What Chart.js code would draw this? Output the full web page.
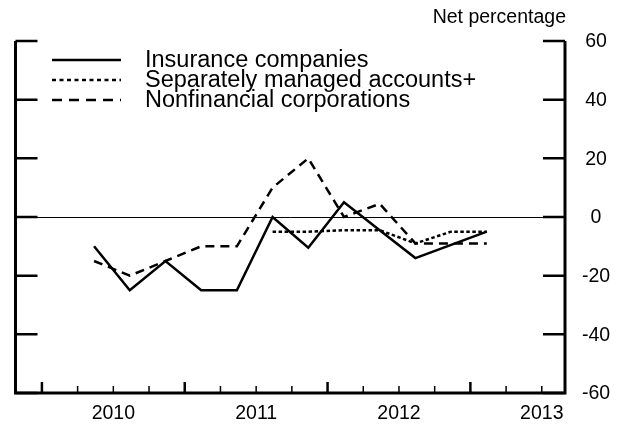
<!DOCTYPE html>
<html>
<head>
<meta charset="utf-8">
<script src="https://cdn.jsdelivr.net/npm/chart.js"></script>
<style>
  html, body { margin: 0; padding: 0; background: #fff; }
  #wrap { width: 625px; height: 427px; position: relative; }
</style>
</head>
<body>
<div id="wrap"><canvas id="chart" width="625" height="427"></canvas></div>
<script>
  // quarters counted from the start of 2010 (0 = 2010 Q1 start)
  const quarters = [1.46, 2.46, 3.46, 4.46, 5.46, 6.46, 7.46, 8.46, 9.46, 10.46, 11.46, 12.46];
  const insurance = [-10, -25, -15, -25, -25, 0, -10.5, 5, -4.5, -14, -9.5, -5];
  const managed = [null, null, null, null, null, -5, -5, -4.5, -4.5, -9, -5, -5];
  const nonfinancial = [-15, -20, -15, -10, -10, 10, 20, 0, 4.5, -9, -9, -9];
  const yearLabels = ['2010', '2011', '2012', '2013'];
  const yearMids = [2, 6, 10, 14];
  const yTicks = [60, 40, 20, 0, -20, -40, -60];
  const seriesNames = ['Insurance companies', 'Separately managed accounts+', 'Nonfinancial corporations'];

  function pts(vals) {
    return vals.map((v, i) => ({ x: quarters[i], y: v }));
  }

  const font = '"Liberation Sans", Arial, sans-serif';

  const framePlugin = {
    id: 'frame',
    beforeDatasetsDraw(chart) {
      const { ctx, chartArea: a, scales: { y } } = chart;
      ctx.save();
      ctx.strokeStyle = '#000';
      ctx.lineWidth = 1;
      const y0 = Math.round(y.getPixelForValue(0)) + 0.5;
      ctx.beginPath();
      ctx.moveTo(a.left, y0);
      ctx.lineTo(a.right, y0);
      ctx.stroke();
      ctx.restore();
    },
    afterDraw(chart) {
      const { ctx, chartArea: a, scales: { x, y } } = chart;
      ctx.save();
      ctx.strokeStyle = '#000';
      ctx.fillStyle = '#000';
      ctx.lineCap = 'butt';
      // box: left, right, bottom
      ctx.lineWidth = 3;
      ctx.beginPath();
      ctx.moveTo(a.left, a.top);
      ctx.lineTo(a.left, a.bottom);
      ctx.lineTo(a.right, a.bottom);
      ctx.lineTo(a.right, a.top);
      ctx.stroke();
      // y ticks inward on both sides, labels on the right
      ctx.font = '19.5px ' + font;
      ctx.textAlign = 'center';
      ctx.textBaseline = 'middle';
      yTicks.forEach(v => {
        const py = y.getPixelForValue(v);
        ctx.lineWidth = 2.5;
        ctx.beginPath();
        ctx.moveTo(a.left, py);
        ctx.lineTo(a.left + 22, py);
        ctx.moveTo(a.right, py);
        ctx.lineTo(a.right - 22, py);
        ctx.stroke();
        ctx.fillText(String(v), a.right + 31, py + 1);
      });
      // x ticks
      for (let q = 0; q <= 14; q++) {
        const px = x.getPixelForValue(q);
        const len = q % 4 === 0 ? 11 : 7;
        ctx.lineWidth = q % 4 === 0 ? 2.5 : 1.5;
        ctx.beginPath();
        ctx.moveTo(px, a.bottom);
        ctx.lineTo(px, a.bottom - len);
        ctx.stroke();
      }
      // unit label
      ctx.font = '19.5px ' + font;
      ctx.textAlign = 'right';
      ctx.fillText('Net percentage', a.right + 1, 18);
      // legend
      const rows = [60, 80, 100];
      chart.data.datasets.forEach((ds, i) => {
        ctx.lineWidth = 2.5;
        ctx.setLineDash(i === 0 ? [] : (i === 1 ? [4, 3.5] : [10, 7]));
        ctx.beginPath();
        ctx.moveTo(52, rows[i]);
        ctx.lineTo(121, rows[i]);
        ctx.stroke();
        ctx.setLineDash([]);
        ctx.font = '23.5px ' + font;
        ctx.textAlign = 'left';
        ctx.fillText(seriesNames[i], 145, rows[i] + 1);
      });
      ctx.restore();
    }
  };

  const common = { borderColor: '#000', borderWidth: 2.5, pointRadius: 0, fill: false, tension: 0, spanGaps: false };

  new Chart(document.getElementById('chart'), {
    type: 'line',
    data: {
      datasets: [
        { ...common, label: seriesNames[0], data: pts(insurance) },
        { ...common, label: seriesNames[1], data: pts(managed), borderDash: [3.5, 2.5] },
        { ...common, label: seriesNames[2], data: pts(nonfinancial), borderDash: [9, 6] }
      ]
    },
    options: {
      responsive: false,
      animation: false,
      layout: { padding: { left: 15.5, top: 41, right: 0, bottom: 0 } },
      plugins: { legend: { display: false }, tooltip: { enabled: false } },
      scales: {
        x: {
          type: 'linear',
          min: -0.74,
          max: 14.65,
          grid: { display: false, drawTicks: false },
          border: { display: false },
          afterBuildTicks(axis) { axis.ticks = yearMids.map(v => ({ value: v })); },
          afterFit(axis) { axis.height = 34; },
          ticks: {
            color: '#000',
            font: { size: 19.5, family: font },
            padding: 9,
            maxRotation: 0,
            autoSkip: false,
            callback: (v) => yearLabels[yearMids.indexOf(v)]
          }
        },
        y: {
          position: 'right',
          min: -60,
          max: 60,
          grid: { display: false, drawTicks: false },
          border: { display: false },
          afterFit(axis) { axis.width = 60; },
          ticks: { display: false, stepSize: 20 }
        }
      }
    },
    plugins: [framePlugin]
  });
</script>
</body>
</html>
